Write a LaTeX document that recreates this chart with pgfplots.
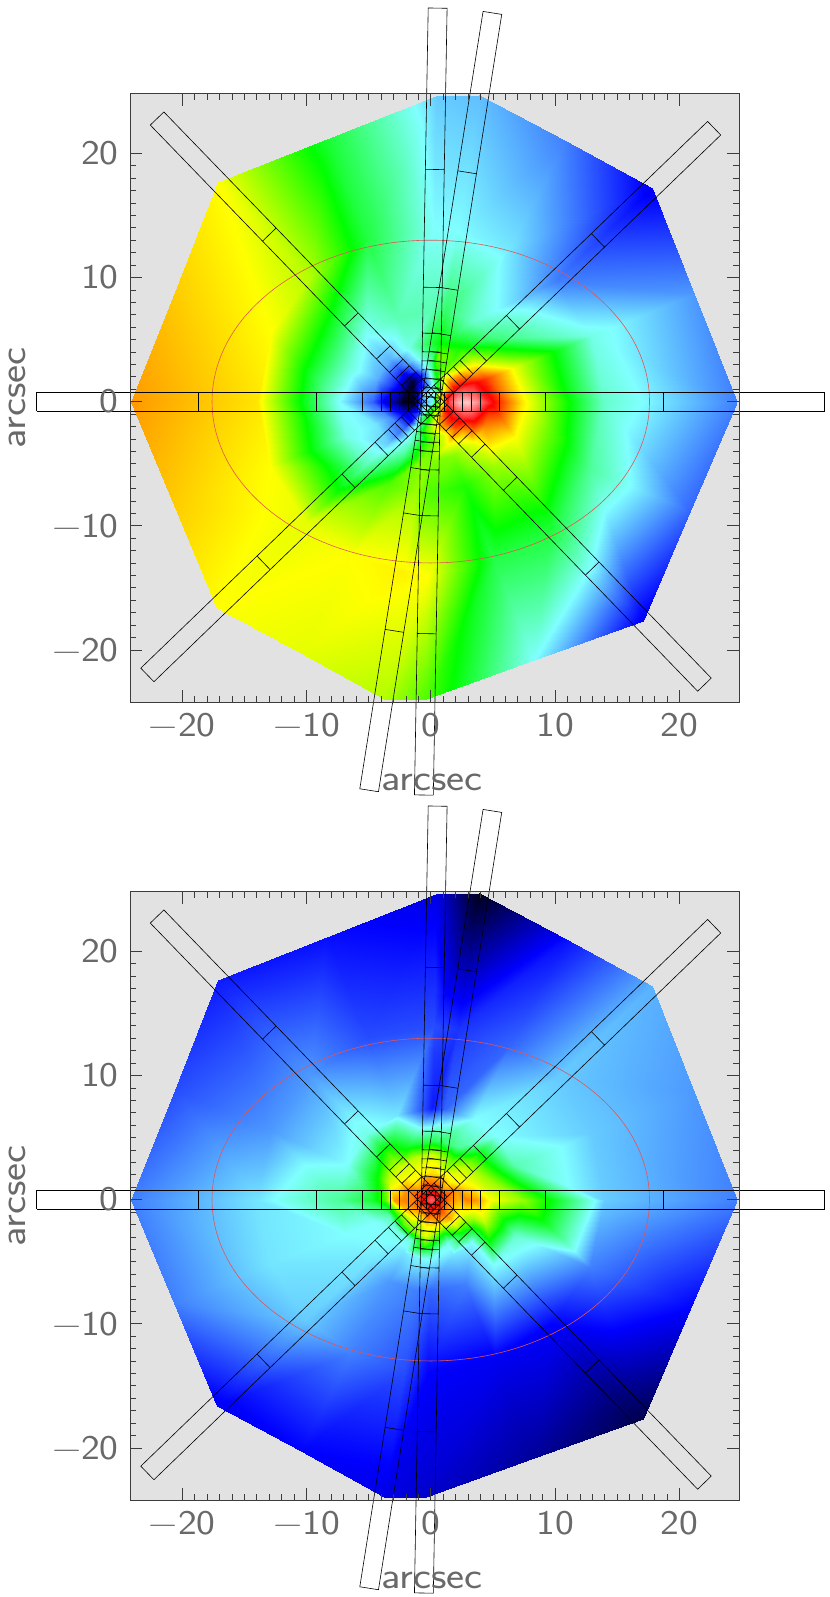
\documentclass[border=0pt]{standalone}
\usepackage{fontspec}
\usepackage{pgfplots}
\usepackage{pgfplotstable}
\pgfplotsset{compat=1.18}
\newfontfamily\labfont[FakeStretch=1.15]{Latin Modern Sans}
\definecolor{bggray}{RGB}{226,226,226}
\definecolor{txtgray}{RGB}{105,105,105}
\definecolor{axgray}{RGB}{60,60,60}
\definecolor{ellred}{RGB}{225,85,85}
\pgfplotsset{
  colormap={idl}{rgb255(0)=(0,0,0) rgb255(1)=(0,0,255) rgb255(2)=(128,255,255) rgb255(3)=(0,255,0) rgb255(4)=(255,255,0) rgb255(5)=(255,0,0) rgb255(6)=(255,255,255)},
  panel/.style={
    scale only axis, width=456.75pt, height=456.2pt,
    xmin=-24.2, xmax=24.8, ymin=-24.2, ymax=24.8,
    clip=false, axis on top,
    axis background/.style={fill=bggray},
    colormap name=idl, point meta min=0, point meta max=6,
    xtick={-20,-10,0,10,20}, ytick={-20,-10,0,10,20},
    xticklabels={−20,−10,0,10,20}, yticklabels={−20,−10,0,10,20},
    minor x tick num=9, minor y tick num=9,
    tick align=inside, tick pos=both, major tick length=9pt, minor tick length=4.5pt,
    every tick/.style={axgray, line width=0.45pt},
    axis line style={axgray, line width=0.6pt},
    tick label style={font=\labfont\fontsize{26}{26}\selectfont, text=txtgray},
    xticklabel style={yshift=-5pt},
    yticklabel style={xshift=-5pt},
    xlabel={arcsec}, ylabel={arcsec},
    every axis x label/.style={at={(axis description cs:0.496,-0.1316)},anchor=center,font=\labfont\fontsize{28}{28}\selectfont,text=txtgray},
    every axis y label/.style={at={(axis description cs:-0.185,0.5)},anchor=center,rotate=90,font=\labfont\fontsize{28}{28}\selectfont,text=txtgray},
    unbounded coords=jump,
  },
  maps/.style={surf, shader=interp, mesh/rows=19, mesh/cols=10, point meta=\thisrow{c}},
}
\pgfplotstableread[row sep=\\]{
a b\\
-31.7 -0.76\\ 31.7 -0.76\\ 31.7 0.76\\ -31.7 0.76\\ -31.7 -0.76\\ nan nan\\
0.37 -0.76\\ 0.37 0.76\\ nan nan\\
1.1 -0.76\\ 1.1 0.76\\ nan nan\\
1.83 -0.76\\ 1.83 0.76\\ nan nan\\
2.55 -0.76\\ 2.55 0.76\\ nan nan\\
3.27 -0.76\\ 3.27 0.76\\ nan nan\\
4.0 -0.76\\ 4.0 0.76\\ nan nan\\
5.5 -0.76\\ 5.5 0.76\\ nan nan\\
9.2 -0.76\\ 9.2 0.76\\ nan nan\\
18.7 -0.76\\ 18.7 0.76\\ nan nan\\
-0.37 -0.76\\ -0.37 0.76\\ nan nan\\
-1.1 -0.76\\ -1.1 0.76\\ nan nan\\
-1.83 -0.76\\ -1.83 0.76\\ nan nan\\
-2.55 -0.76\\ -2.55 0.76\\ nan nan\\
-3.27 -0.76\\ -3.27 0.76\\ nan nan\\
-4.0 -0.76\\ -4.0 0.76\\ nan nan\\
-5.5 -0.76\\ -5.5 0.76\\ nan nan\\
-9.2 -0.76\\ -9.2 0.76\\ nan nan\\
-18.7 -0.76\\ -18.7 0.76\\
}\slit
\pgfplotstableread[row sep=\\]{
th r c\\
0 0 1.9\\ 0 0.73 3.6\\ 0 1.46 5.3\\ 0 2.2 5.7\\ 0 2.93 5.8\\ 0 3.65 5.6\\ 0 4.75 5.1\\ 0 7.35 4.1\\ 0 13.95 2.2\\ 0 24.6 1.5\\
22.2 0 1.9\\ 22.2 0.73 3.8\\ 22.2 1.46 5.0\\ 22.2 2.2 5.25\\ 22.2 2.93 5.25\\ 22.2 3.65 5.1\\ 22.2 4.75 4.8\\ 22.2 7.35 3.9\\ 22.2 13.95 2.1\\ 22.2 22.9 1.6\\
44 0 1.9\\ 44 0.73 3.8\\ 44 1.46 4.0\\ 44 2.2 4.6\\ 44 2.93 4.4\\ 44 3.65 4.1\\ 44 4.75 3.8\\ 44 7.35 2.5\\ 44 13.95 1.5\\ 44 24.8 0.95\\
62.7 0 1.9\\ 62.7 0.73 2.0\\ 62.7 1.46 3.4\\ 62.7 2.2 3.9\\ 62.7 2.93 3.5\\ 62.7 3.65 3.3\\ 62.7 4.75 3.1\\ 62.7 7.35 2.2\\ 62.7 13.95 1.9\\ 62.7 23.64 1.5\\
81 0 1.9\\ 81 0.73 2.0\\ 81 1.46 2.2\\ 81 2.2 2.9\\ 81 2.93 3.2\\ 81 3.65 3.5\\ 81 4.75 3.0\\ 81 7.35 2.6\\ 81 13.95 2.0\\ 81 25 1.75\\
89 0 1.9\\ 89 0.73 2.0\\ 89 1.46 1.9\\ 89 2.2 2.1\\ 89 2.93 2.4\\ 89 3.65 2.5\\ 89 4.75 2.8\\ 89 7.35 2.3\\ 89 13.95 2.0\\ 89 24.6 1.8\\
111.5 0 1.9\\ 111.5 0.73 1.9\\ 111.5 1.46 1.3\\ 111.5 2.2 1.1\\ 111.5 2.93 1.6\\ 111.5 3.65 1.9\\ 111.5 4.75 2.1\\ 111.5 7.35 2.3\\ 111.5 13.95 2.75\\ 111.5 22.73 2.8\\
134 0 1.9\\ 134 0.73 2.0\\ 134 1.46 0.8\\ 134 2.2 0.1\\ 134 2.93 0.9\\ 134 3.65 1.3\\ 134 4.75 1.7\\ 134 7.35 2.0\\ 134 13.95 3.7\\ 134 24.6 4.0\\
156.8 0 1.9\\ 156.8 0.73 1.6\\ 156.8 1.46 0.3\\ 156.8 2.2 0.3\\ 156.8 2.93 1.0\\ 156.8 3.65 1.3\\ 156.8 4.75 1.7\\ 156.8 7.35 2.2\\ 156.8 13.95 4.0\\ 156.8 22.42 4.2\\
180 0 1.9\\ 180 0.73 1.5\\ 180 1.46 0.05\\ 180 2.2 0.1\\ 180 2.93 0.6\\ 180 3.65 0.9\\ 180 4.75 1.4\\ 180 7.35 2.0\\ 180 13.95 4.1\\ 180 24.1 4.4\\
201.9 0 1.9\\ 201.9 0.73 1.8\\ 201.9 1.46 0.6\\ 201.9 2.2 0.8\\ 201.9 2.93 1.2\\ 201.9 3.65 1.6\\ 201.9 4.75 1.9\\ 201.9 7.35 2.1\\ 201.9 13.95 4.0\\ 201.9 22.25 4.2\\
224 0 1.9\\ 224 0.73 2.0\\ 224 1.46 1.3\\ 224 2.2 1.0\\ 224 2.93 1.4\\ 224 3.65 1.5\\ 224 4.75 1.8\\ 224 7.35 2.3\\ 224 13.95 3.9\\ 224 23.9 4.0\\
242.7 0 1.9\\ 242.7 0.73 2.4\\ 242.7 1.46 2.6\\ 242.7 2.2 2.2\\ 242.7 2.93 2.2\\ 242.7 3.65 2.2\\ 242.7 4.75 2.4\\ 242.7 7.35 3.3\\ 242.7 13.95 4.0\\ 242.7 22.83 3.9\\
261 0 1.9\\ 261 0.73 3.0\\ 261 1.46 3.0\\ 261 2.2 3.3\\ 261 2.93 3.0\\ 261 3.65 3.2\\ 261 4.75 3.5\\ 261 7.35 3.6\\ 261 13.95 4.05\\ 261 24.25 3.7\\
269 0 1.9\\ 269 0.73 3.0\\ 269 1.46 3.3\\ 269 2.2 3.6\\ 269 2.93 3.3\\ 269 3.65 3.4\\ 269 4.75 3.5\\ 269 7.35 3.3\\ 269 13.95 4.0\\ 269 24 3.3\\
291.8 0 1.9\\ 291.8 0.73 3.6\\ 291.8 1.46 4.2\\ 291.8 2.2 4.3\\ 291.8 2.93 3.9\\ 291.8 3.65 4.0\\ 291.8 4.75 3.5\\ 291.8 7.35 3.1\\ 291.8 13.95 2.7\\ 291.8 22.45 2.0\\
314 0 1.9\\ 314 0.73 3.5\\ 314 1.46 4.7\\ 314 2.2 4.9\\ 314 2.93 4.7\\ 314 3.65 4.2\\ 314 4.75 3.9\\ 314 7.35 3.6\\ 314 13.95 2.8\\ 314 24.6 0.95\\
337 0 1.9\\ 337 0.73 4.0\\ 337 1.46 5.0\\ 337 2.2 5.25\\ 337 2.93 5.25\\ 337 3.65 5.1\\ 337 4.75 4.5\\ 337 7.35 4.0\\ 337 13.95 2.4\\ 337 22.65 1.4\\
360 0 1.9\\ 360 0.73 3.6\\ 360 1.46 5.3\\ 360 2.2 5.7\\ 360 2.93 5.8\\ 360 3.65 5.6\\ 360 4.75 5.1\\ 360 7.35 4.1\\ 360 13.95 2.2\\ 360 24.6 1.5\\
}\dataA
\pgfplotstableread[row sep=\\]{
th r c\\
0 0 5.4\\ 0 0.73 5.0\\ 0 1.46 4.5\\ 0 2.2 4.3\\ 0 2.93 4.5\\ 0 3.65 4.4\\ 0 4.75 4.0\\ 0 7.35 3.6\\ 0 13.95 1.8\\ 0 24.6 1.5\\
22.2 0 5.4\\ 22.2 0.73 5.0\\ 22.2 1.46 4.6\\ 22.2 2.2 4.4\\ 22.2 2.93 4.1\\ 22.2 3.65 3.9\\ 22.2 4.75 3.6\\ 22.2 7.35 2.3\\ 22.2 13.95 1.8\\ 22.2 22.9 1.6\\
44 0 5.4\\ 44 0.73 4.8\\ 44 1.46 4.3\\ 44 2.2 4.0\\ 44 2.93 3.9\\ 44 3.65 3.8\\ 44 4.75 3.3\\ 44 7.35 2.0\\ 44 13.95 1.8\\ 44 24.8 1.7\\
62.7 0 5.4\\ 62.7 0.73 5.0\\ 62.7 1.46 4.5\\ 62.7 2.2 4.1\\ 62.7 2.93 3.6\\ 62.7 3.65 3.3\\ 62.7 4.75 2.4\\ 62.7 7.35 2.0\\ 62.7 13.95 1.4\\ 62.7 23.64 1.05\\
81 0 5.4\\ 81 0.73 5.0\\ 81 1.46 4.5\\ 81 2.2 4.1\\ 81 2.93 4.0\\ 81 3.65 3.7\\ 81 4.75 2.6\\ 81 7.35 1.4\\ 81 13.95 1.2\\ 81 25 0.1\\
89 0 5.4\\ 89 0.73 5.0\\ 89 1.46 4.5\\ 89 2.2 4.1\\ 89 2.93 4.0\\ 89 3.65 3.8\\ 89 4.75 2.7\\ 89 7.35 1.1\\ 89 13.95 1.3\\ 89 24.6 0.9\\
111.5 0 5.4\\ 111.5 0.73 4.9\\ 111.5 1.46 4.6\\ 111.5 2.2 4.0\\ 111.5 2.93 3.9\\ 111.5 3.65 3.7\\ 111.5 4.75 2.8\\ 111.5 7.35 1.9\\ 111.5 13.95 1.3\\ 111.5 22.73 1.05\\
134 0 5.4\\ 134 0.73 4.8\\ 134 1.46 4.3\\ 134 2.2 4.0\\ 134 2.93 3.9\\ 134 3.65 3.8\\ 134 4.75 3.4\\ 134 7.35 2.1\\ 134 13.95 1.6\\ 134 24.6 1.1\\
156.8 0 5.4\\ 156.8 0.73 4.9\\ 156.8 1.46 4.6\\ 156.8 2.2 4.4\\ 156.8 2.93 4.0\\ 156.8 3.65 3.8\\ 156.8 4.75 3.0\\ 156.8 7.35 2.0\\ 156.8 13.95 1.6\\ 156.8 22.42 1.3\\
180 0 5.4\\ 180 0.73 4.9\\ 180 1.46 4.5\\ 180 2.2 4.5\\ 180 2.93 4.4\\ 180 3.65 3.3\\ 180 4.75 2.8\\ 180 7.35 2.4\\ 180 13.95 1.9\\ 180 24.1 1.5\\
201.9 0 5.4\\ 201.9 0.73 4.8\\ 201.9 1.46 4.5\\ 201.9 2.2 4.2\\ 201.9 2.93 3.3\\ 201.9 3.65 2.3\\ 201.9 4.75 2.0\\ 201.9 7.35 2.0\\ 201.9 13.95 1.9\\ 201.9 22.25 1.5\\
224 0 5.4\\ 224 0.73 4.7\\ 224 1.46 4.3\\ 224 2.2 3.9\\ 224 2.93 3.4\\ 224 3.65 2.1\\ 224 4.75 2.0\\ 224 7.35 1.9\\ 224 13.95 1.8\\ 224 23.9 0.95\\
242.7 0 5.4\\ 242.7 0.73 4.8\\ 242.7 1.46 4.2\\ 242.7 2.2 3.7\\ 242.7 2.93 3.5\\ 242.7 3.65 2.1\\ 242.7 4.75 1.9\\ 242.7 7.35 1.6\\ 242.7 13.95 1.5\\ 242.7 22.83 1.0\\
261 0 5.4\\ 261 0.73 4.9\\ 261 1.46 4.6\\ 261 2.2 4.0\\ 261 2.93 3.9\\ 261 3.65 3.3\\ 261 4.75 2.0\\ 261 7.35 1.5\\ 261 13.95 1.3\\ 261 24.25 0.9\\
269 0 5.4\\ 269 0.73 4.9\\ 269 1.46 4.4\\ 269 2.2 4.0\\ 269 2.93 3.7\\ 269 3.65 3.0\\ 269 4.75 2.0\\ 269 7.35 1.4\\ 269 13.95 1.0\\ 269 24 0.8\\
291.8 0 5.4\\ 291.8 0.73 4.9\\ 291.8 1.46 4.6\\ 291.8 2.2 4.0\\ 291.8 2.93 3.0\\ 291.8 3.65 2.1\\ 291.8 4.75 1.9\\ 291.8 7.35 1.5\\ 291.8 13.95 0.95\\ 291.8 22.45 0.6\\
314 0 5.4\\ 314 0.73 4.8\\ 314 1.46 4.6\\ 314 2.2 4.3\\ 314 2.93 3.8\\ 314 3.65 3.0\\ 314 4.75 2.0\\ 314 7.35 2.0\\ 314 13.95 1.0\\ 314 24.6 0.3\\
337 0 5.4\\ 337 0.73 4.9\\ 337 1.46 4.4\\ 337 2.2 4.1\\ 337 2.93 3.9\\ 337 3.65 3.7\\ 337 4.75 3.7\\ 337 7.35 2.2\\ 337 13.95 1.5\\ 337 22.65 1.0\\
360 0 5.4\\ 360 0.73 5.0\\ 360 1.46 4.5\\ 360 2.2 4.3\\ 360 2.93 4.5\\ 360 3.65 4.4\\ 360 4.75 4.0\\ 360 7.35 3.6\\ 360 13.95 1.8\\ 360 24.6 1.5\\
}\dataB
\newcommand\panelbody[1]{%
  \addplot[maps] table[x expr={\thisrow{r}*cos(\thisrow{th})}, y expr={\thisrow{r}*sin(\thisrow{th})}] {#1};
  \draw[ellred, line width=0.45pt] (axis cs:0,0) ellipse [x radius=17.6, y radius=13];
  \pgfplotsinvokeforeach{0,44,81,89,134}{%
    \addplot[black, line width=0.45pt, no markers] table[x expr={\thisrow{a}*cos(##1)-\thisrow{b}*sin(##1)}, y expr={\thisrow{a}*sin(##1)+\thisrow{b}*cos(##1)}] {\slit};
  }%
}
\begin{document}
\begin{tikzpicture}
\path[use as bounding box] (0,0) rectangle (622.5pt,1197.75pt);
\begin{axis}[panel, at={(97.5pt,671.25pt)}, anchor=south west]
\panelbody{\dataA}
\end{axis}
\begin{axis}[panel, at={(97.5pt,72.75pt)}, anchor=south west]
\panelbody{\dataB}
\end{axis}
\end{tikzpicture}
\end{document}
